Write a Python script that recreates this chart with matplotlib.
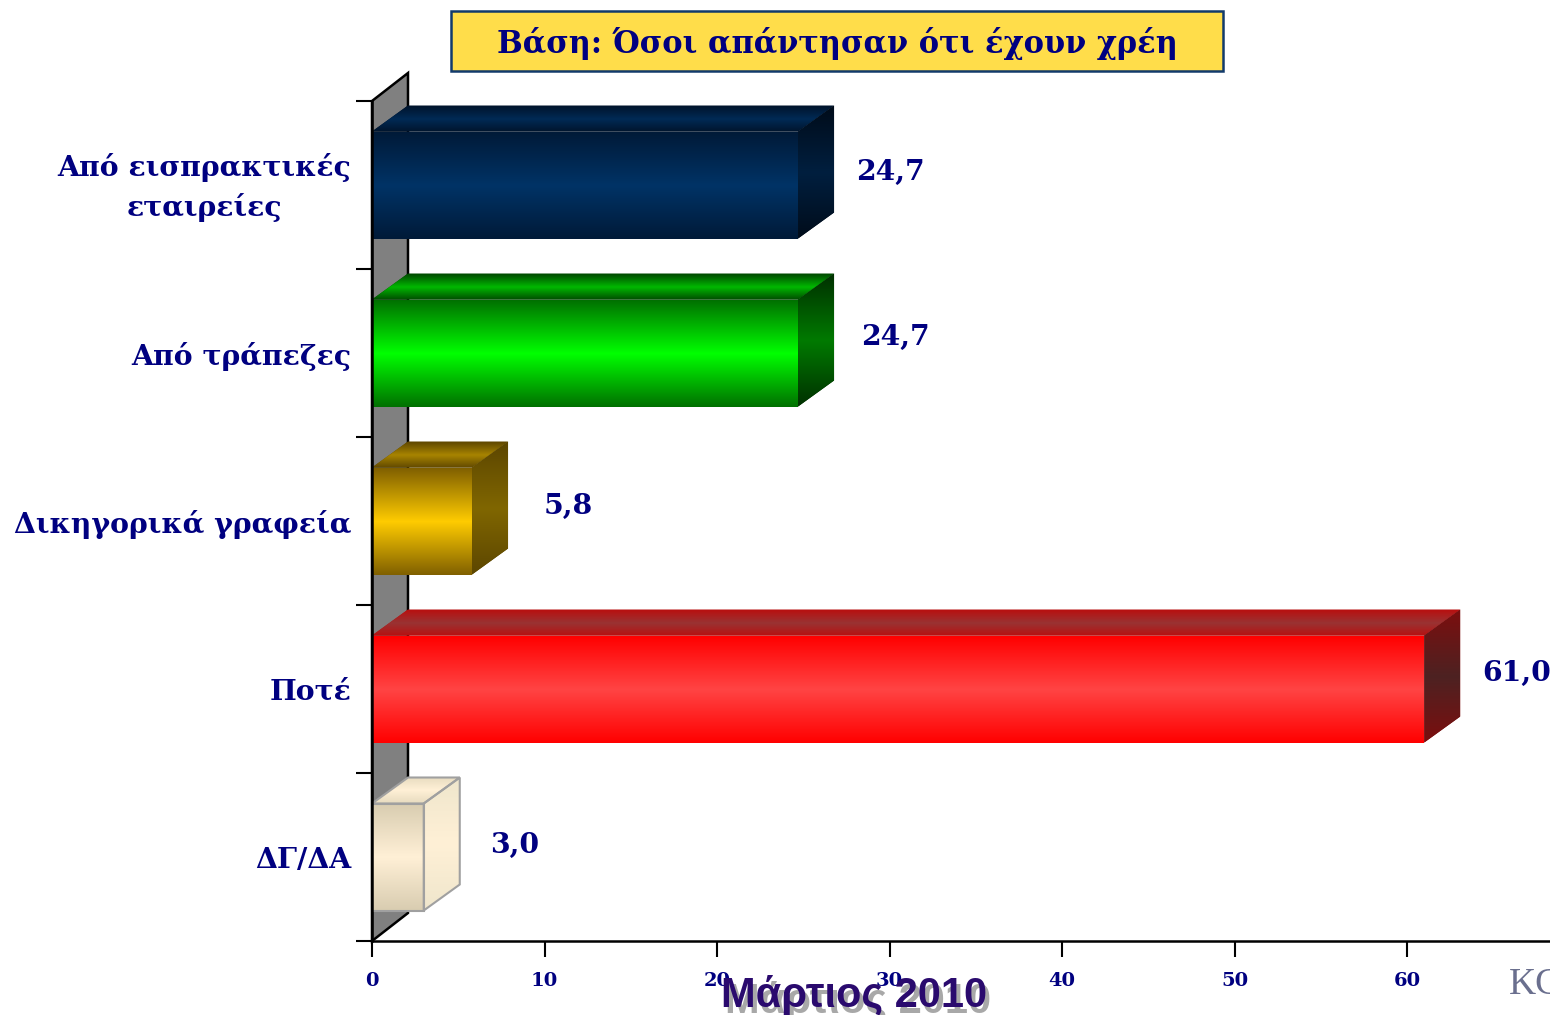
import numpy as np
import matplotlib
matplotlib.use('Agg')
import matplotlib.pyplot as plt
from matplotlib.colors import LinearSegmentedColormap
from matplotlib.patches import Polygon, Rectangle
from matplotlib.transforms import ScaledTranslation

categories = ['Από εισπρακτικές\nεταιρείες', 'Από τράπεζες', 'Δικηγορικά γραφεία', 'Ποτέ', 'ΔΓ/ΔΑ']
values = [24.7, 24.7, 5.8, 61.0, 3.0]
value_labels = ['24,7', '24,7', '5,8', '61,0', '3,0']
x_ticks = [0, 10, 20, 30, 40, 50, 60]
title = 'Βάση: Όσοι απάντησαν ότι έχουν χρέη'
footer = 'Μάρτιος 2010'

# label offset from bar end / bar centre, in pixels
label_dx = [58, 63, 72, 58, 66]
label_dy = [13, 16, 15, 16, 12]

# (edge, middle) colours for front, top, side
front_cols = [('#001a38', '#003366'), ('#007000', '#00ff00'), ('#806000', '#ffcc00'),
              ('#ff0000', '#ff4444'), ('#d8ccb0', '#fff0d6')]
top_cols = [('#00142c', '#002a55'), ('#004a00', '#00b800'), ('#604800', '#a88400'),
            ('#b81010', '#993333'), ('#e8dcc0', '#fff0d6')]
side_cols = [('#000c1a', '#001f3f'), ('#003000', '#007a00'), ('#5c4600', '#806600'),
             ('#7c0e0e', '#4d2222'), ('#efe6cc', '#fff0d6')]
edge_cols = [None, None, None, None, '#a0a0a0']

W, H = 1550, 1015
fig = plt.figure(figsize=(W / 100, H / 100), dpi=100, facecolor='white')
ax = fig.add_axes([372 / W, 1 - 941 / H, (W - 372) / W, 840 / H])
ax.set_zorder(2)
ax.patch.set_visible(False)

px_x = 17.25          # pixels for one percent
px_y = 168            # pixels for one category
xlim = (W - 372) / px_x
dx = 36 / px_x
dy = 26 / px_y
wall_dy = 28 / px_y
bar_h = 107 / px_y
navy = '#000080'
serif = 'DejaVu Serif'


def face(poly, cols, edge):
    xs = [p[0] for p in poly]
    ys = [p[1] for p in poly]
    # solid underlay so no light seam shows between the clipped faces
    ax.add_patch(Polygon(poly, closed=True, facecolor=cols[0], edgecolor='none', zorder=2))
    cmap = LinearSegmentedColormap.from_list('f', [cols[0], cols[1], cols[0]])
    im = ax.imshow(np.linspace(0, 1, 256).reshape(-1, 1), cmap=cmap, aspect='auto',
                   extent=(min(xs), max(xs), max(ys), min(ys)), interpolation='bilinear', zorder=3)
    im.set_clip_path(Polygon(poly, transform=ax.transData))
    if edge:
        ax.add_patch(Polygon(poly, closed=True, fill=False, edgecolor=edge, lw=1.5, zorder=4))


ax.add_patch(Polygon([(0, 5), (dx, 5 - wall_dy), (dx, -wall_dy), (0, 0)], closed=True, facecolor='#808080',
                     edgecolor='black', lw=1.8, zorder=1, clip_on=False))

for i, v in enumerate(values):
    c = i + 0.5
    y0 = c - bar_h / 2
    y1 = c + bar_h / 2
    face([(0, y0), (dx, y0 - dy), (v + dx, y0 - dy), (v, y0)], top_cols[i], edge_cols[i])
    face([(v, y0), (v + dx, y0 - dy), (v + dx, y1 - dy), (v, y1)], side_cols[i], edge_cols[i])
    face([(0, y0), (v, y0), (v, y1), (0, y1)], front_cols[i], edge_cols[i])
    ax.annotate(value_labels[i], xy=(v, c), xytext=(label_dx[i], label_dy[i]), textcoords='offset pixels',
                ha='left', va='center', color=navy, fontsize=20.3, fontweight='bold', family=serif,
                annotation_clip=False, zorder=6)

ax.set_xlim(0, xlim)
ax.set_ylim(5, 0)
for s in ['top', 'right']:
    ax.spines[s].set_visible(False)
for s in ['left', 'bottom']:
    ax.spines[s].set_linewidth(1.8)
    ax.spines[s].set_zorder(5)

ax.set_xticks(x_ticks)
ax.set_xticklabels([str(t) for t in x_ticks], color=navy, fontsize=14, fontweight='bold', family=serif)
ax.tick_params(axis='x', length=11.5, width=1.5, pad=11)
ax.set_yticks(range(6))
ax.set_yticklabels([])
ax.tick_params(axis='y', which='major', length=11.5, width=1.5)
ax.set_yticks(np.arange(5) + 0.5, minor=True)
ax.set_yticklabels(categories, minor=True, color=navy, fontsize=20.3, fontweight='bold', family=serif,
                   multialignment='center', linespacing=1.5)
ax.tick_params(axis='y', which='minor', length=0, pad=15)

# two line label sits a bit higher
first = ax.get_yticklabels(minor=True)[0]
first.set_transform(first.get_transform() + ScaledTranslation(0, 6 / 100, fig.dpi_scale_trans))

# title box
fig.add_artist(Rectangle((451 / W, 1 - 71 / H), 772 / W, 60 / H, facecolor='#ffdd4a', edgecolor='#123a6b',
                         lw=1.8, transform=fig.transFigure))
fig.text(837 / W, 1 - 44 / H, title, ha='center', va='center', color=navy, fontsize=22, fontweight='bold',
         family=serif)

# footer with shadow
fig.text(858 / W, 1 - 1002 / H, footer, ha='center', va='center', color='#a8a8a8', fontsize=30,
         fontweight='bold', family='Liberation Sans', zorder=5)
fig.text(854 / W, 1 - 996 / H, footer, ha='center', va='center', color='#2a0a6e', fontsize=30,
         fontweight='bold', family='Liberation Sans', zorder=6)
fig.text(1509 / W, 1 - 985 / H, 'KC', ha='left', va='center', color='#6a6f8e', fontsize=27,
         family='Liberation Serif', zorder=6)

fig.savefig('out.png', dpi=100)
